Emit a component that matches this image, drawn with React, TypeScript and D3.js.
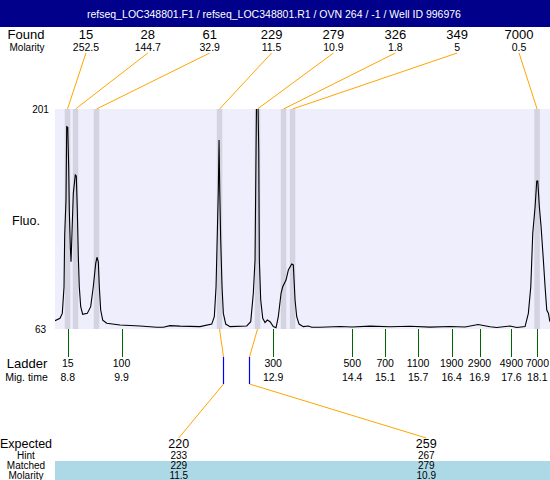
import React from "react";
import * as d3 from "d3";

const title = "refseq_LOC348801.F1 / refseq_LOC348801.R1 / OVN 264 / -1 / Well ID 996976";

// Found peaks
const foundSizes = ["15", "28", "61", "229", "279", "326", "349", "7000"];
const foundMolarity = ["252.5", "144.7", "32.9", "11.5", "10.9", "1.8", "5", "0.5"];
const foundTimes = [8.815, 8.973, 9.387, 11.813, 12.562, 13.075, 13.253, 18.075];

// Ladder
const ladderSizes = ["15", "100", "300", "500", "700", "1100", "1900", "2900", "4900", "7000"];
const ladderTimes = [8.82, 9.88, 12.87, 14.43, 15.08, 15.73, 16.39, 16.94, 17.57, 18.08];

// Expected
const expectedSizes = ["220", "259"];
const expectedHint = ["233", "267"];
const expectedMatched = ["229", "279"];
const expectedMolarity = ["11.5", "10.9"];
const expectedTimes = [11.89, 12.39];
const expectedMatchIndex = [3, 4];

// Axes
const timeDomain = [8.568, 18.33];
const fluoDomain = [63, 201];
const fluoTicks = [201, 63];

// Electropherogram trace
const traceTime = [
  8.568, 8.667, 8.712, 8.746, 8.759, 8.785, 8.799, 8.819, 8.838, 8.85, 8.87, 8.884, 8.903, 8.929,
  8.968, 8.988, 9.008, 9.028, 9.047, 9.075, 9.114, 9.205, 9.272, 9.323, 9.371, 9.396, 9.422, 9.442,
  9.469, 9.509, 9.588, 9.85, 10.245, 10.574, 10.704, 10.836, 11.034, 11.428, 11.659, 11.71, 11.744,
  11.769, 11.789, 11.803, 11.817, 11.836, 11.862, 11.888, 11.935, 12.02, 12.349, 12.428, 12.479,
  12.513, 12.533, 12.546, 12.566, 12.586, 12.598, 12.625, 12.665, 12.71, 12.755, 12.809, 12.874,
  12.927, 12.972, 13.026, 13.059, 13.124, 13.17, 13.237, 13.268, 13.302, 13.335, 13.381, 13.465,
  13.564, 13.631, 13.795, 14.189, 14.426, 14.781, 15.176, 15.57, 15.964, 16.359, 16.655, 16.911,
  17.148, 17.28, 17.542, 17.675, 17.838, 17.903, 17.951, 17.99, 18.036, 18.069, 18.089, 18.12,
  18.154, 18.199, 18.233, 18.266, 18.3, 18.327,
];
const traceFluo = [
  68.2, 69.7, 72.8, 89.5, 122, 144, 189.9, 189.5, 164.8, 137.7, 114.6, 105.2, 123, 148.1,
  159.6, 159, 137.7, 108.4, 89.5, 77, 72.2, 72.8, 77, 89.5, 104.2, 108, 105.2, 89.5,
  74.9, 68.6, 66.6, 65.5, 64.9, 64.1, 64.1, 65.1, 64.8, 64.5, 66.1, 70.7, 89.5,
  123, 150.2, 181.6, 150.2, 118.8, 89.5, 72.8, 66.1, 64.5, 64.9, 67.6, 85.4,
  106.3, 175.3, 215, 215, 175.3, 106.3, 81.2, 69.7, 67, 68.6, 67.6, 64.5,
  63.8, 70.7, 85.4, 89.5, 93.7, 100, 103.8, 103.2, 81.2, 70.7, 66.1, 64.5,
  64.9, 64.1, 64.1, 64.6, 64.3, 64.8, 64.4, 64.7, 64.2, 64.6, 64.3, 65.8,
  64.4, 63.9, 64.9, 63.9, 64.5, 72.8, 89.5, 123, 139.7, 155.8, 155.8, 139.7,
  127.2, 106.3, 89.5, 74.9, 72.8, 67.6,
];

const W = 550;
const H = 480;
const PL = 55;
const PR = 550;
const PT = 109;
const PB = 329;
const FONT = "'Liberation Sans', Arial, Helvetica, sans-serif";
const ORANGE = "#FFA500";

const px = (v: number) => Math.round(v) + 0.5;

export default function App() {
  const x = d3.scaleLinear().domain(timeDomain).range([PL, PR]);
  const y = d3.scaleLinear().domain(fluoDomain).range([PB, PT]);
  const line = d3
    .line<number>()
    .x((_, i) => x(traceTime[i]))
    .y((d) => y(d));
  const foundCol = d3.scaleBand<number>().domain(d3.range(foundSizes.length)).range([PL, PR]);
  const expCol = d3.scaleBand<number>().domain(d3.range(expectedSizes.length)).range([PL, PR]);
  const bandW = 5.5;

  return (
    <svg
      width={W}
      height={H}
      style={{ position: "absolute", left: 0, top: 0, fontFamily: FONT }}
    >
      <defs>
        <clipPath id="plotClip">
          <rect x={PL} y={PT} width={PR - PL} height={PB - PT} />
        </clipPath>
      </defs>
      <rect x={0} y={0} width={W} height={H} fill="#fff" />
      {/* header */}
      <rect x={0} y={0} width={W} height={27} fill="#00008B" />
      <text x={274} y={17.5} fill="#fff" fontSize={10.5} textAnchor="middle">
        {title}
      </text>

      {/* Found rows */}
      <text x={26} y={38.5} fontSize={13} textAnchor="middle">Found</text>
      <text x={27} y={50.5} fontSize={10} textAnchor="middle">Molarity</text>
      {foundSizes.map((s, i) => {
        const cx = (foundCol(i) as number) + foundCol.bandwidth() / 2;
        return (
          <g key={"f" + i}>
            <text x={cx} y={38.5} fontSize={13} textAnchor="middle">{s}</text>
            <text x={cx} y={50.5} fontSize={10.5} textAnchor="middle">{foundMolarity[i]}</text>
            <line x1={cx} y1={53} x2={x(foundTimes[i])} y2={PT} stroke={ORANGE} strokeWidth={1} />
          </g>
        );
      })}

      {/* plot area */}
      <rect x={PL} y={PT} width={PR - PL} height={PB - PT} fill="#EEEEFC" />
      {foundTimes.map((t, i) => (
        <rect key={"b" + i} x={x(t) - bandW / 2} y={PT} width={bandW} height={PB - PT} fill="#D3D3E1" />
      ))}
      <path d={line(traceFluo) || ""} fill="none" stroke="#000" strokeWidth={1.1} clipPath="url(#plotClip)" />

      {/* y labels */}
      {fluoTicks.map((v) => (
        <text key={"y" + v} x={40.5} y={y(v) + 4} fontSize={10} textAnchor="middle">{v}</text>
      ))}
      <text x={26} y={225} fontSize={12.5} textAnchor="middle">Fluo.</text>

      {/* ladder */}
      {ladderTimes.map((t, i) => (
        <g key={"l" + i}>
          <line x1={px(x(t))} y1={PB} x2={px(x(t))} y2={357} stroke="#006400" strokeWidth={1} />
          <text x={x(t)} y={367} fontSize={10.5} textAnchor="middle">{ladderSizes[i]}</text>
          <text x={x(t)} y={380.5} fontSize={10.5} textAnchor="middle">{t.toFixed(1)}</text>
        </g>
      ))}
      <text x={27} y={367.5} fontSize={13} textAnchor="middle">Ladder</text>
      <text x={26.5} y={380.5} fontSize={10.5} textAnchor="middle">Mig. time</text>

      {/* expected */}
      <rect x={PL} y={461} width={PR - PL} height={19} fill="#ADD8E6" />
      <text x={26} y={448} fontSize={12.5} textAnchor="middle">Expected</text>
      <text x={26} y={459} fontSize={10} textAnchor="middle">Hint</text>
      <text x={26} y={469} fontSize={10} textAnchor="middle">Matched</text>
      <text x={26} y={479} fontSize={10} textAnchor="middle">Molarity</text>
      {expectedSizes.map((s, j) => {
        const cx = (expCol(j) as number) + expCol.bandwidth() / 2;
        const ex = px(x(expectedTimes[j]));
        const fx = x(foundTimes[expectedMatchIndex[j]]);
        return (
          <g key={"e" + j}>
            <line x1={cx} y1={438} x2={ex} y2={384} stroke={ORANGE} />
            <line x1={ex} y1={384} x2={ex} y2={357} stroke="#0000FF" strokeWidth={1.2} />
            <line x1={ex} y1={357} x2={fx} y2={PB} stroke={ORANGE} />
            <text x={cx} y={448} fontSize={12.5} textAnchor="middle">{s}</text>
            <text x={cx} y={459} fontSize={10} textAnchor="middle">{expectedHint[j]}</text>
            <text x={cx} y={469} fontSize={10} textAnchor="middle">{expectedMatched[j]}</text>
            <text x={cx} y={479} fontSize={10} textAnchor="middle">{expectedMolarity[j]}</text>
          </g>
        );
      })}
    </svg>
  );
}
